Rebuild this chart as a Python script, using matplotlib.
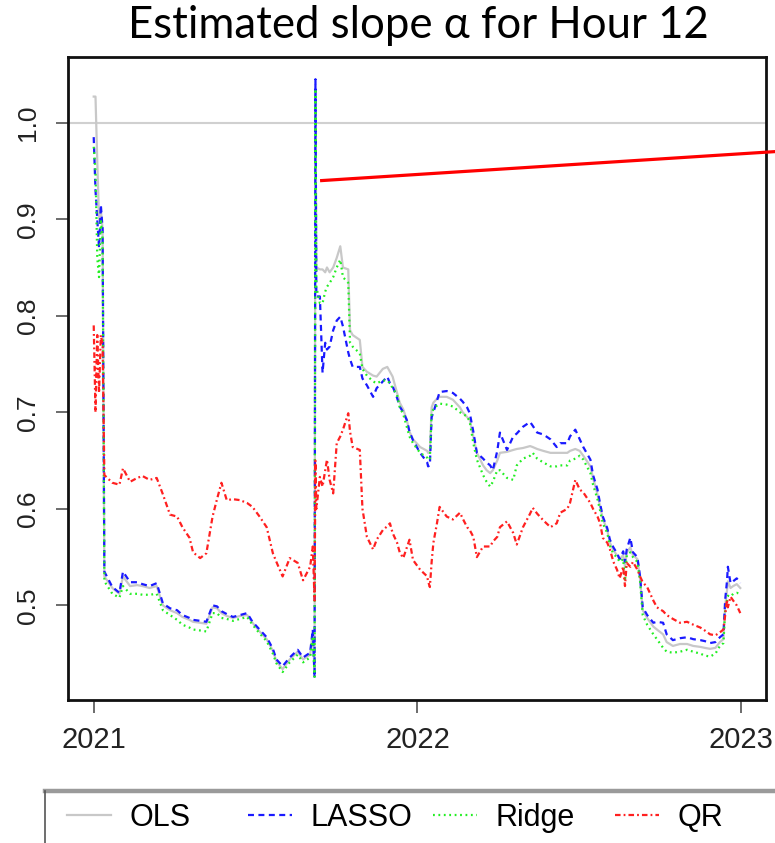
import numpy as np
import matplotlib
matplotlib.use("Agg")
import matplotlib.pyplot as plt
from matplotlib.lines import Line2D

# ---- data: days since 2021-01-01 and the estimated slope of each method ----
start_date = np.datetime64("2021-01-01")
days = [
    0, 2, 4, 6, 8, 10, 12,
    21, 29, 33, 41, 49, 55, 63, 71, 78, 86,
    94, 100, 108, 112, 120, 127, 134, 139, 144, 150,
    157, 165, 173, 179, 187, 195, 202, 206, 213, 221,
    230, 236, 244, 247,
    249, 250, 251,
    255, 258, 261, 263, 266, 270, 274, 278, 281, 287,
    289, 292, 300, 303, 308, 315, 319, 326, 331, 334,
    337, 342, 345, 349, 353, 356, 360, 368, 376, 377,
    379, 381, 383, 387, 390, 398, 405, 413, 416, 421,
    424, 428, 432, 439, 443, 447, 450, 455, 458, 466,
    473, 477, 484, 492, 495, 500, 507, 515, 522, 526,
    534, 537, 543, 548, 552, 560, 563, 568, 571, 574,
    579, 582, 586, 590, 593, 597, 599, 601, 605, 608,
    613, 616, 619, 624, 631, 635, 642, 646, 653, 661,
    669, 676, 684, 689, 695, 701, 706, 710, 712, 714,
    715, 718, 721, 725, 729,
]

ols = [
    1.027, 1.027, 0.96, 0.90, 0.91, 0.89, 0.530,
    0.518, 0.512, 0.530, 0.520, 0.521, 0.520, 0.518, 0.520, 0.500, 0.495,
    0.492, 0.488, 0.485, 0.483, 0.482, 0.481, 0.498, 0.497, 0.492, 0.489,
    0.487, 0.489, 0.490, 0.482, 0.473, 0.465, 0.453, 0.442, 0.434, 0.444,
    0.452, 0.444, 0.449, 0.472,
    0.430, 1.035, 0.850,
    0.848, 0.848, 0.845, 0.850, 0.845, 0.850, 0.860, 0.872, 0.850, 0.848,
    0.785, 0.780, 0.775, 0.747, 0.742, 0.738, 0.737, 0.745, 0.747, 0.742,
    0.737, 0.720, 0.710, 0.703, 0.692, 0.680, 0.672, 0.664, 0.660, 0.658,
    0.658, 0.705, 0.710, 0.714, 0.716, 0.716, 0.713, 0.705, 0.700, 0.695,
    0.692, 0.675, 0.658, 0.645, 0.640, 0.637, 0.640, 0.650, 0.658, 0.659,
    0.661, 0.662, 0.663, 0.665, 0.664, 0.662, 0.660, 0.658, 0.658, 0.658,
    0.658, 0.660, 0.662, 0.660, 0.655, 0.644, 0.632, 0.615, 0.602, 0.590,
    0.578, 0.565, 0.557, 0.552, 0.548, 0.552, 0.540, 0.555, 0.560, 0.552,
    0.548, 0.527, 0.495, 0.487, 0.478, 0.475, 0.470, 0.462, 0.458, 0.460,
    0.460, 0.458, 0.457, 0.456, 0.455, 0.456, 0.462, 0.465, 0.500, 0.515,
    0.525, 0.518, 0.520, 0.522, 0.518,
]

lasso = [
    0.985, 0.93, 0.90, 0.87, 0.915, 0.89, 0.535,
    0.519, 0.513, 0.535, 0.524, 0.524, 0.522, 0.520, 0.523, 0.502, 0.497,
    0.495, 0.490, 0.487, 0.485, 0.484, 0.483, 0.500, 0.499, 0.494, 0.491,
    0.488, 0.490, 0.492, 0.483, 0.475, 0.467, 0.455, 0.444, 0.437, 0.446,
    0.454, 0.446, 0.451, 0.475,
    0.425, 1.045, 0.820,
    0.820, 0.741, 0.772, 0.765, 0.768, 0.785, 0.795, 0.799, 0.789, 0.762,
    0.755, 0.747, 0.747, 0.735, 0.728, 0.716, 0.725, 0.732, 0.737, 0.730,
    0.727, 0.715, 0.706, 0.700, 0.692, 0.680, 0.671, 0.658, 0.648, 0.644,
    0.645, 0.695, 0.700, 0.712, 0.721, 0.722, 0.720, 0.714, 0.711, 0.705,
    0.699, 0.680, 0.658, 0.652, 0.648, 0.645, 0.640, 0.660, 0.679, 0.661,
    0.675, 0.678, 0.685, 0.690, 0.686, 0.679, 0.677, 0.672, 0.664, 0.668,
    0.668, 0.675, 0.682, 0.672, 0.664, 0.651, 0.635, 0.620, 0.605, 0.592,
    0.580, 0.568, 0.560, 0.554, 0.548, 0.556, 0.545, 0.558, 0.570, 0.555,
    0.550, 0.530, 0.498, 0.490, 0.482, 0.483, 0.482, 0.470, 0.464, 0.466,
    0.467, 0.465, 0.464, 0.463, 0.461, 0.462, 0.467, 0.470, 0.506, 0.525,
    0.540, 0.523, 0.525, 0.528, 0.523,
]

ridge = [
    0.975, 0.95, 0.86, 0.84, 0.90, 0.88, 0.525,
    0.512, 0.508, 0.520, 0.512, 0.512, 0.511, 0.511, 0.512, 0.495, 0.490,
    0.485, 0.480, 0.477, 0.475, 0.474, 0.473, 0.492, 0.492, 0.487, 0.486,
    0.484, 0.486, 0.488, 0.480, 0.471, 0.463, 0.450, 0.440, 0.431, 0.441,
    0.449, 0.441, 0.446, 0.468,
    0.426, 1.035, 0.830,
    0.813, 0.813, 0.825, 0.830, 0.834, 0.840, 0.850, 0.858, 0.840, 0.834,
    0.772, 0.768, 0.761, 0.745, 0.738, 0.732, 0.730, 0.733, 0.733, 0.730,
    0.725, 0.718, 0.705, 0.698, 0.685, 0.675, 0.668, 0.658, 0.653, 0.651,
    0.651, 0.700, 0.703, 0.707, 0.709, 0.708, 0.706, 0.700, 0.698, 0.696,
    0.690, 0.668, 0.651, 0.635, 0.628, 0.623, 0.628, 0.640, 0.640, 0.632,
    0.630, 0.645, 0.652, 0.655, 0.658, 0.652, 0.648, 0.644, 0.644, 0.645,
    0.645, 0.650, 0.652, 0.655, 0.651, 0.637, 0.625, 0.610, 0.598, 0.585,
    0.575, 0.562, 0.553, 0.550, 0.545, 0.548, 0.525, 0.552, 0.555, 0.550,
    0.545, 0.525, 0.490, 0.480, 0.470, 0.465, 0.456, 0.452, 0.451, 0.452,
    0.454, 0.452, 0.450, 0.448, 0.447, 0.450, 0.458, 0.461, 0.495, 0.505,
    0.510, 0.509, 0.512, 0.513, 0.512,
]

qr = [
    0.79, 0.70, 0.78, 0.72, 0.78, 0.77, 0.635,
    0.627, 0.625, 0.642, 0.628, 0.632, 0.634, 0.630, 0.632, 0.615, 0.594,
    0.592, 0.581, 0.570, 0.555, 0.549, 0.554, 0.592, 0.610, 0.627, 0.609,
    0.610, 0.609, 0.606, 0.602, 0.592, 0.581, 0.554, 0.545, 0.530, 0.549,
    0.544, 0.526, 0.540, 0.561,
    0.505, 0.650, 0.600,
    0.633, 0.623, 0.640, 0.651, 0.630, 0.616, 0.668, 0.675, 0.682, 0.699,
    0.680, 0.664, 0.661, 0.600, 0.571, 0.558, 0.568, 0.578, 0.582, 0.585,
    0.575, 0.565, 0.555, 0.549, 0.560, 0.568, 0.547, 0.537, 0.530, 0.525,
    0.519, 0.545, 0.565, 0.585, 0.602, 0.592, 0.589, 0.596, 0.590, 0.581,
    0.578, 0.571, 0.550, 0.561, 0.561, 0.561, 0.566, 0.571, 0.581, 0.587,
    0.575, 0.563, 0.581, 0.595, 0.601, 0.595, 0.588, 0.581, 0.585, 0.596,
    0.600, 0.606, 0.630, 0.620, 0.617, 0.606, 0.600, 0.592, 0.585, 0.570,
    0.565, 0.558, 0.545, 0.537, 0.528, 0.540, 0.520, 0.544, 0.540, 0.545,
    0.537, 0.530, 0.524, 0.519, 0.505, 0.498, 0.494, 0.490, 0.486, 0.482,
    0.483, 0.480, 0.477, 0.474, 0.470, 0.469, 0.472, 0.475, 0.490, 0.506,
    0.498, 0.509, 0.505, 0.500, 0.492,
]

series_names = ["OLS", "LASSO", "Ridge", "QR"]
year_ticks = ["2021-01-01", "2022-01-01", "2023-01-01"]
year_labels = ["2021", "2022", "2023"]
y_ticks = [0.5, 0.6, 0.7, 0.8, 0.9, 1.0]
reference_level = 1.0
# callout line: (day, value) of its start and end
callout_days = [257, 768]
callout_values = [0.940, 0.970]

# ---- styling ----
plt.rcParams["lines.scale_dashes"] = False
tick_font = "Liberation Sans"
styles = {
    "OLS": dict(color="#c8c8c8", linestyle="-", lw=1.6),
    "LASSO": dict(color="#1a1aff", linestyle=(0, (4.3, 3.2)), lw=1.6),
    "Ridge": dict(color="#22ee22", linestyle=(0, (1.3, 2.6)), lw=1.6),
    "QR": dict(color="#ff2020", linestyle=(0, (4.0, 2.2, 1.3, 2.2)), lw=1.6),
}

W, H = 775, 843
fig = plt.figure(figsize=(W / 100, H / 100), dpi=100)
ax = fig.add_axes([68 / W, 1 - 700 / H, (766 - 68) / W, (700 - 57) / H])

dates = start_date + np.array(days).astype("timedelta64[D]")
values = {"OLS": ols, "LASSO": lasso, "Ridge": ridge, "QR": qr}

ax.axhline(reference_level, color="#d0d0d0", lw=1.5, zorder=1)
handles = []
for name in series_names:
    (h,) = ax.plot(dates, values[name], zorder=2, **styles[name])
    handles.append(h)

# callout line pointing at the jump
ax.plot(start_date + np.array(callout_days).astype("timedelta64[D]"),
        callout_values, color="#ff0000", lw=2.3, clip_on=False, zorder=5)

ax.set_xlim(start_date - np.timedelta64(29, "D"), start_date + np.timedelta64(758, "D"))
ax.set_ylim(0.402, 1.068)

ax.set_xticks([np.datetime64(d) for d in year_ticks])
ax.set_xticklabels(year_labels, fontsize=21, fontfamily=tick_font, color="#222222")
ax.set_yticks(y_ticks)
ax.set_yticklabels([f"{v:.1f}" for v in y_ticks], fontsize=19, fontfamily=tick_font,
                   color="#222222", rotation=90, va="center")
ax.tick_params(axis="x", length=9, width=1.1, color="#444444", pad=10)
ax.tick_params(axis="y", length=9, width=1.1, color="#444444", pad=11)

for sp in ax.spines.values():
    sp.set_linewidth(2.0)
    sp.set_color("#111111")

fig.text(418 / W, 1 - 25 / H, "Estimated slope \u03b1 for Hour 12",
         ha="center", va="center", fontsize=31.5, fontfamily="Lato", color="#000000")

# legend strip below the plot, one entry per method
entry_x = [67, 248, 433, 615]
for h, name, x0 in zip(handles, series_names, entry_x):
    fig.legend([h], [name], loc="center left",
               bbox_to_anchor=(x0 / W, 1 - 818 / H), frameon=False,
               borderpad=0, borderaxespad=0, handlelength=1.45, handletextpad=0.6,
               prop={"family": tick_font, "size": 22})
fig.add_artist(Line2D([45 / W, 1.0], [1 - 791 / H, 1 - 791 / H],
                      color="#9a9a9a", lw=3.2, transform=fig.transFigure))
fig.add_artist(Line2D([45 / W, 45 / W], [1 - 791 / H, 0.0],
                      color="#555555", lw=1.2, transform=fig.transFigure))

fig.savefig("out.png", dpi=100)
